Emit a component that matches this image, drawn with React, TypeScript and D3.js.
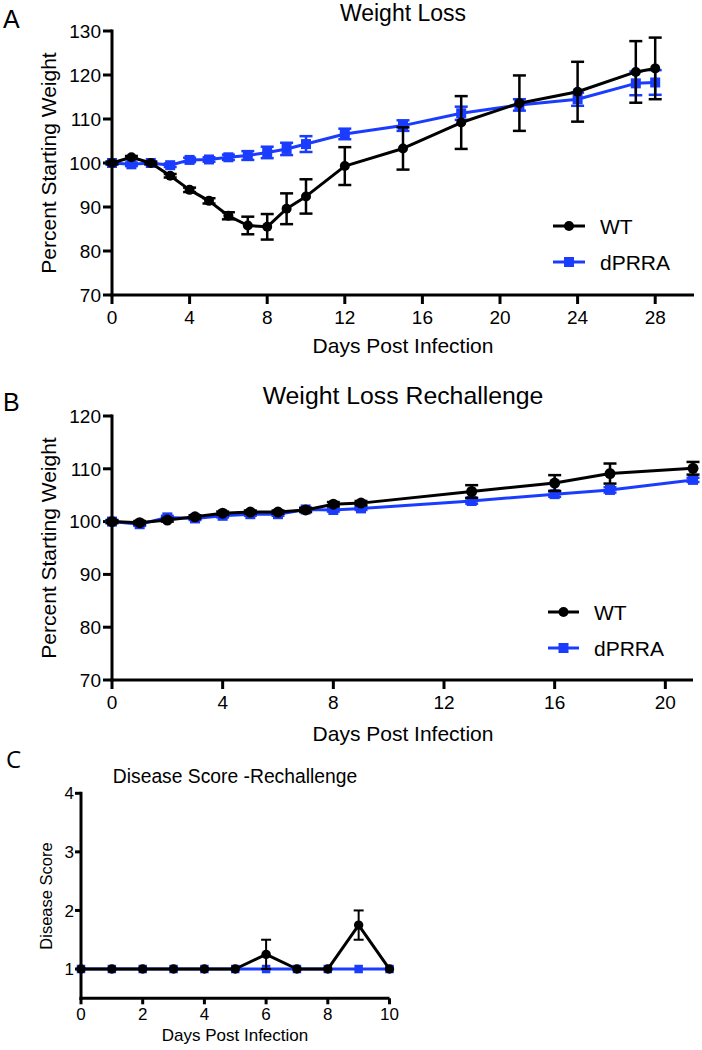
import React from "react";
import * as d3 from "d3";

// ---------- Data ----------
// Panel A: Weight Loss
const daysA = [0, 1, 2, 3, 4, 5, 6, 7, 8, 9, 10, 12, 15, 18, 21, 24, 27, 28];
const wtA = [100, 101.3, 100, 97.1, 93.9, 91.4, 88, 85.8, 85.5, 89.6, 92.4, 99.3, 103.3, 109.2, 113.6, 116.2, 120.7, 121.5];
const wtAErr = [0.3, 0.3, 0.3, 0.4, 0.5, 0.6, 0.8, 2, 2.9, 3.5, 3.9, 4.3, 4.8, 6, 6.3, 6.8, 7, 7];
const koA = [100, 99.7, 100, 99.5, 100.7, 100.8, 101.3, 101.7, 102.4, 103.2, 104.3, 106.6, 108.5, 111.3, 113.2, 114.5, 118.1, 118.3];
const koAErr = [0.3, 0.4, 0.3, 0.4, 0.5, 0.5, 0.6, 1.0, 1.3, 1.4, 1.8, 1.2, 1.2, 1.5, 1.3, 1.5, 2.7, 2.8];

// Panel B: Weight Loss Rechallenge
const daysB = [0, 1, 2, 3, 4, 5, 6, 7, 8, 9, 13, 16, 18, 21];
const wtB = [100, 99.8, 100.3, 100.9, 101.6, 101.8, 101.8, 102.2, 103.3, 103.5, 105.7, 107.3, 109.1, 110.1];
const wtBErr = [0.3, 0.3, 0.3, 0.3, 0.3, 0.3, 0.3, 0.4, 0.4, 0.4, 1.2, 1.5, 1.9, 1.2];
const koB = [100, 99.5, 100.8, 100.6, 101.1, 101.4, 101.4, 102.3, 102.2, 102.5, 103.9, 105.2, 106.0, 107.9];
const koBErr = [0.2, 0.3, 0.3, 0.3, 0.3, 0.3, 0.3, 0.3, 0.3, 0.3, 0.5, 0.5, 0.5, 0.4];

// Panel C: Disease Score - Rechallenge
const daysC = [0, 1, 2, 3, 4, 5, 6, 7, 8, 9, 10];
const wtC = [1, 1, 1, 1, 1, 1, 1.25, 1, 1, 1.75, 1];
const wtCErr = [0, 0, 0, 0, 0, 0, 0.25, 0, 0, 0.25, 0];
const koC = [1, 1, 1, 1, 1, 1, 1, 1, 1, 1, 1];
const koCErr = [0, 0, 0, 0, 0, 0, 0, 0, 0, 0, 0];

const ticksXA = [0, 4, 8, 12, 16, 20, 24, 28];
const ticksYA = [70, 80, 90, 100, 110, 120, 130];
const ticksXB = [0, 4, 8, 12, 16, 20];
const ticksYB = [70, 80, 90, 100, 110, 120];
const ticksXC = [0, 2, 4, 6, 8, 10];
const ticksYC = [1, 2, 3, 4];

const seriesNames = ["WT", "dPRRA"];
const BLACK = "#000000";
const BLUE = "#1a3cff";
const FONT = "'Liberation Sans', Arial, Helvetica, sans-serif";

type Series = { x: number[]; y: number[]; e: number[]; color: string; shape: "circle" | "square" };

type PanelProps = {
  x0: number; x1: number; xDomain: [number, number];
  yTop: number; yBottom: number; yDomain: [number, number];
  xTicks: number[]; yTicks: number[];
  series: Series[];
  tickLen: number; tickFont: number; xTickBaselineOffset: number; yLabelGap: number;
  markerR: number; sq: number; capW: number; lineW: number; errW: number; axisW: number;
};

function Panel(p: PanelProps) {
  const xs = d3.scaleLinear().domain(p.xDomain).range([p.x0, p.x1]);
  const ys = d3.scaleLinear().domain(p.yDomain).range([p.yBottom, p.yTop]);
  const line = d3.line<[number, number]>().x((d) => xs(d[0])).y((d) => ys(d[1]));
  const yAxisBottom = p.yBottom;
  return (
    <g>
      {/* axes */}
      <line x1={p.x0} x2={p.x0} y1={ys(p.yDomain[1]) - 1.5} y2={yAxisBottom + 1.5} stroke="#000" strokeWidth={p.axisW} />
      <line x1={p.x0 - 1.5} x2={p.x1} y1={yAxisBottom} y2={yAxisBottom} stroke="#000" strokeWidth={p.axisW} />
      {p.yTicks.map((t) => (
        <g key={"yt" + t}>
          <line x1={p.x0 - p.tickLen} x2={p.x0} y1={ys(t)} y2={ys(t)} stroke="#000" strokeWidth={p.axisW} />
          <text x={p.x0 - p.tickLen - p.yLabelGap} y={ys(t)} dy="0.36em" textAnchor="end" fontSize={p.tickFont} fontFamily={FONT}>{t}</text>
        </g>
      ))}
      {p.xTicks.map((t) => (
        <g key={"xt" + t}>
          <line x1={xs(t)} x2={xs(t)} y1={yAxisBottom} y2={yAxisBottom + p.tickLen} stroke="#000" strokeWidth={p.axisW} />
          <text x={xs(t)} y={yAxisBottom + p.xTickBaselineOffset} textAnchor="middle" fontSize={p.tickFont} fontFamily={FONT}>{t}</text>
        </g>
      ))}
      {/* series */}
      {p.series.map((s, si) => {
        const pts: [number, number][] = s.x.map((x, i) => [x, s.y[i]]);
        return (
          <g key={"s" + si}>
            <path d={line(pts) || ""} fill="none" stroke={s.color} strokeWidth={p.lineW} strokeLinejoin="round" />
            {pts.map((d, i) => {
              const e = s.e[i];
              if (!e) return null;
              const cx = xs(d[0]);
              const yt = ys(d[1] + e);
              const yb = ys(d[1] - e);
              return (
                <g key={"e" + i} stroke={s.color} strokeWidth={p.errW}>
                  <line x1={cx} x2={cx} y1={yt} y2={yb} />
                  <line x1={cx - p.capW / 2} x2={cx + p.capW / 2} y1={yt} y2={yt} />
                  <line x1={cx - p.capW / 2} x2={cx + p.capW / 2} y1={yb} y2={yb} />
                </g>
              );
            })}
            {pts.map((d, i) =>
              s.shape === "circle" ? (
                <circle key={"m" + i} cx={xs(d[0])} cy={ys(d[1])} r={p.markerR} fill={s.color} />
              ) : (
                <rect key={"m" + i} x={xs(d[0]) - p.sq / 2} y={ys(d[1]) - p.sq / 2} width={p.sq} height={p.sq} fill={s.color} />
              )
            )}
          </g>
        );
      })}
    </g>
  );
}

function Legend({ x, y1, y2, textX, fontSize, r, sq, lineW }: { x: [number, number]; y1: number; y2: number; textX: number; fontSize: number; r: number; sq: number; lineW: number }) {
  const mid = (x[0] + x[1]) / 2;
  return (
    <g>
      <line x1={x[0]} x2={x[1]} y1={y1} y2={y1} stroke={BLACK} strokeWidth={lineW} />
      <circle cx={mid} cy={y1} r={r} fill={BLACK} />
      <text x={textX} y={y1} dy="0.36em" fontSize={fontSize} fontFamily={FONT}>{seriesNames[0]}</text>
      <line x1={x[0]} x2={x[1]} y1={y2} y2={y2} stroke={BLUE} strokeWidth={lineW} />
      <rect x={mid - sq / 2} y={y2 - sq / 2} width={sq} height={sq} fill={BLUE} />
      <text x={textX} y={y2} dy="0.36em" fontSize={fontSize} fontFamily={FONT}>{seriesNames[1]}</text>
    </g>
  );
}

export default function App() {
  const seriesA: Series[] = [
    { x: daysA, y: koA, e: koAErr, color: BLUE, shape: "square" },
    { x: daysA, y: wtA, e: wtAErr, color: BLACK, shape: "circle" },
  ];
  const seriesB: Series[] = [
    { x: daysB, y: koB, e: koBErr, color: BLUE, shape: "square" },
    { x: daysB, y: wtB, e: wtBErr, color: BLACK, shape: "circle" },
  ];
  const seriesC: Series[] = [
    { x: daysC, y: koC, e: koCErr, color: BLUE, shape: "square" },
    { x: daysC, y: wtC, e: wtCErr, color: BLACK, shape: "circle" },
  ];
  return (
    <svg width={702} height={1050} style={{ position: "absolute", left: 0, top: 0, background: "#fff" }}>
      <rect x={0} y={0} width={702} height={1050} fill="#fff" />
      {/* Panel A */}
      <text x={3} y={28} fontSize={25} fontFamily={FONT}>A</text>
      <text x={403} y={21} textAnchor="middle" fontSize={23} fontFamily={FONT}>Weight Loss</text>
      <text transform="translate(56,163) rotate(-90)" textAnchor="middle" fontSize={21} fontFamily={FONT}>Percent Starting Weight</text>
      <text x={403} y={353} textAnchor="middle" fontSize={21} fontFamily={FONT}>Days Post Infection</text>
      <Panel x0={112} x1={694} xDomain={[0, 30]} yTop={31} yBottom={295} yDomain={[70, 130]}
        xTicks={ticksXA} yTicks={ticksYA} series={seriesA}
        tickLen={9} tickFont={19} xTickBaselineOffset={29} yLabelGap={2}
        markerR={5} sq={10} capW={13} lineW={3} errW={2.5} axisW={3} />
      <Legend x={[553, 585]} y1={226} y2={262} textX={600} fontSize={21} r={5} sq={10} lineW={3} />

      {/* Panel B */}
      <text x={3} y={411} fontSize={25} fontFamily={FONT}>B</text>
      <text x={403} y={404} textAnchor="middle" fontSize={24.8} fontFamily={FONT}>Weight Loss Rechallenge</text>
      <text transform="translate(56,548) rotate(-90)" textAnchor="middle" fontSize={21} fontFamily={FONT}>Percent Starting Weight</text>
      <text x={403} y={741} textAnchor="middle" fontSize={21} fontFamily={FONT}>Days Post Infection</text>
      <Panel x0={112} x1={693} xDomain={[0, 21]} yTop={416} yBottom={680} yDomain={[70, 120]}
        xTicks={ticksXB} yTicks={ticksYB} series={seriesB}
        tickLen={9} tickFont={19} xTickBaselineOffset={29} yLabelGap={2}
        markerR={5.5} sq={10} capW={13} lineW={3} errW={2.5} axisW={3} />
      <Legend x={[548, 579]} y1={612} y2={648} textX={594} fontSize={21} r={5} sq={10} lineW={3} />

      {/* Panel C */}
      <text x={6} y={768} fontSize={24} fontFamily="'Open Sans', 'Liberation Sans', sans-serif">C</text>
      <text x={235} y={783} textAnchor="middle" fontSize={19.3} fontFamily={FONT}>Disease Score -Rechallenge</text>
      <text transform="translate(52,896) rotate(-90)" textAnchor="middle" fontSize={16.5} fontFamily={FONT}>Disease Score</text>
      <text x={235} y={1041} textAnchor="middle" fontSize={17} fontFamily={FONT}>Days Post Infection</text>
      <Panel x0={81} x1={389.5} xDomain={[0, 10]} yTop={793.3} yBottom={998.3} yDomain={[0.5, 4]}
        xTicks={ticksXC} yTicks={ticksYC} series={seriesC}
        tickLen={6} tickFont={17} xTickBaselineOffset={22} yLabelGap={1}
        markerR={4.7} sq={8.5} capW={10} lineW={3} errW={2} axisW={3} />
    </svg>
  );
}
